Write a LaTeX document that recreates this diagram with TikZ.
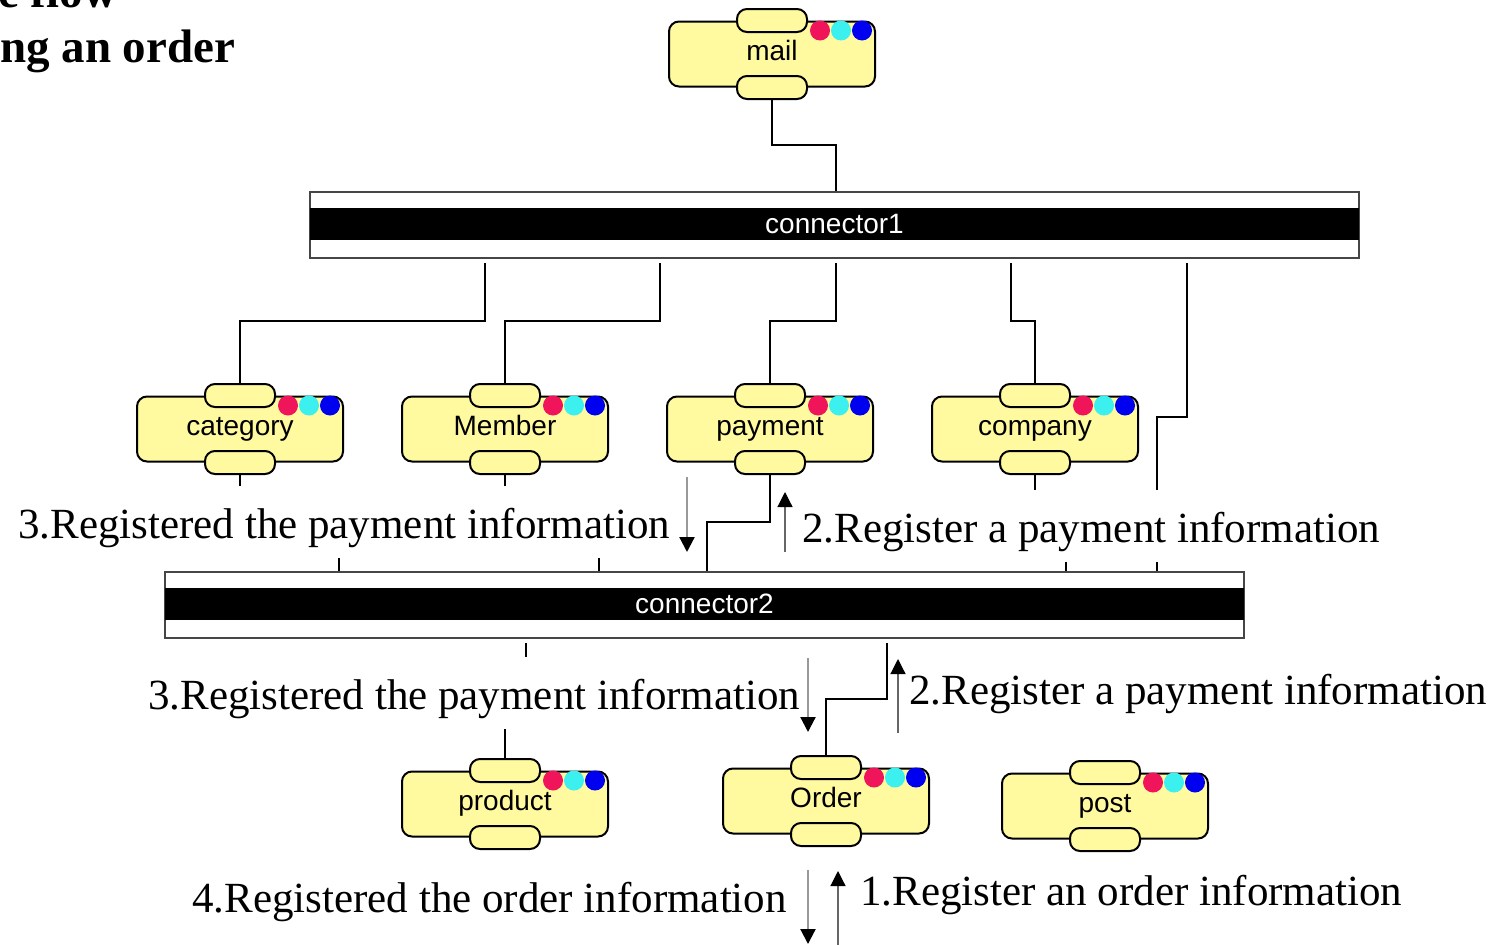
\documentclass[tikz,border=0pt]{standalone}
\usepackage{fontspec}
\setmainfont{Liberation Serif}
\newfontfamily\compfont{Liberation Sans}
\usetikzlibrary{arrows.meta}
\definecolor{compyellow}{RGB}{255,250,160}
\definecolor{dotred}{RGB}{240,20,90}
\definecolor{dotcyan}{RGB}{60,240,240}
\definecolor{dotblue}{RGB}{0,0,240}
\definecolor{conngray}{RGB}{70,70,70}
\tikzset{
  compbody/.style={draw=black, line width=2pt, fill=compyellow, rounded corners=10pt,
    minimum width=206pt, minimum height=65pt, inner sep=0pt,
    text height=20pt, text depth=8pt,
    font=\compfont\fontsize{28}{30}\selectfont},
  comptab/.style={draw=black, line width=2pt, fill=compyellow, rounded corners=10pt,
    minimum width=70pt, minimum height=23pt, inner sep=0pt},
  compdot/.style={circle, inner sep=0pt, minimum size=20pt},
  connbox/.style={draw=conngray, line width=2pt, fill=white,
    minimum height=66pt, inner sep=0pt},
  connband/.style={fill=black, minimum height=32pt, inner sep=0pt,
    text=white, font=\compfont\fontsize{28}{30}\selectfont},
  wire/.style={draw=black, line width=2.4pt},
  note/.style={fill=white, anchor=base west, inner xsep=3pt, inner ysep=0pt,
    text height=52pt, text depth=20pt, font=\fontsize{43}{46}\selectfont},
  msgdown/.style={draw=black!40, line width=2.2pt, -{Triangle[width=15pt,length=15pt,color=black]}},
  msgup/.style={draw=black!60, line width=1.2pt, -{Triangle[width=15pt,length=15pt,color=black]}},
  titletext/.style={anchor=base west, inner sep=0pt, font=\bfseries\fontsize{47}{50}\selectfont},
}
\newcommand\compo[4]{%
  \node[compbody] (#1) at (#2,#3) {#4};
  \node[comptab] (#1-t) at (#1.north) {};
  \node[comptab] (#1-b) at (#1.south) {};
  \node[compdot, fill=dotred] (#1-d1) at ([xshift=-56pt,yshift=-10pt]#1.north east) {};
  \node[compdot, fill=dotcyan] (#1-d2) at ([xshift=-35pt,yshift=-10pt]#1.north east) {};
  \node[compdot, fill=dotblue] (#1-d3) at ([xshift=-14pt,yshift=-10pt]#1.north east) {};
}
\begin{document}
\begin{tikzpicture}[x=1pt,y=-1pt]
\useasboundingbox (0,0) rectangle (1508,945);

% title (cut by the page edge as in the reference)
\node[titletext] (t1) at (-2,7) {e flow};
\node[titletext] (t2) at (0,62) {ng an order};

% components
\compo{mail}{772}{54}{mail}
\compo{category}{240}{429}{category}
\compo{Member}{505}{429}{Member}
\compo{payment}{770}{429}{payment}
\compo{company}{1035}{429}{company}
\compo{product}{505}{804}{product}
\compo{Order}{826}{801}{Order}
\compo{post}{1105}{806}{post}

% connectors
\node[connbox, minimum width=1049pt] (c1) at (834.5,225) {};
\node[connband, minimum width=1049pt] (c1band) at (834.5,224) {connector1};
\node[connbox, minimum width=1079pt] (c2) at (704.5,605) {};
\node[connband, minimum width=1079pt] (c2band) at (704.5,604) {connector2};

% ports
\coordinate (c1top) at ([xshift=1.5pt]c1.north);
\coordinate (c1p1) at ([xshift=-349.5pt,yshift=-4pt]c1.south);
\coordinate (c1p2) at ([xshift=-174.5pt,yshift=-4pt]c1.south);
\coordinate (c1p3) at ([xshift=1.5pt,yshift=-4pt]c1.south);
\coordinate (c1p4) at ([xshift=176.5pt,yshift=-4pt]c1.south);
\coordinate (c1p5) at ([xshift=352.5pt,yshift=-4pt]c1.south);
\coordinate (c2q1) at ([xshift=-365.5pt]c2.north);
\coordinate (c2q2) at ([xshift=-105.5pt]c2.north);
\coordinate (c2q3) at ([xshift=2.5pt]c2.north);
\coordinate (c2q4) at ([xshift=361.5pt]c2.north);
\coordinate (c2q5) at ([xshift=452.5pt]c2.north);
\coordinate (c2r1) at ([xshift=-178.5pt,yshift=-4pt]c2.south);
\coordinate (c2r2) at ([xshift=182.5pt,yshift=-4pt]c2.south);
\coordinate (y145) at (0,145);
\coordinate (y321) at (0,321);
\coordinate (y417) at (0,417);
\coordinate (y520) at (0,520);
\coordinate (y522) at (0,522);
\coordinate (y525) at (0,525);
\coordinate (y690) at (0,690);
\coordinate (y699) at (0,699);

% wires
\draw[wire] (mail-b.south) -- (mail-b.south |- y145) -| (c1top);
\draw[wire] (c1p1) -- (c1p1 |- y321) -| (category-t.north);
\draw[wire] (c1p2) -- (c1p2 |- y321) -| (Member-t.north);
\draw[wire] (c1p3) -- (c1p3 |- y321) -| (payment-t.north);
\draw[wire] (c1p4) -- (c1p4 |- y321) -| (company-t.north);
\draw[wire] (c1p5) -- (c1p5 |- y417) -| (c2q5);
\draw[wire] (category-b.south) -- (category-b.south |- y520) -| (c2q1);
\draw[wire] (Member-b.south) -- (Member-b.south |- y520) -| (c2q2);
\draw[wire] (payment-b.south) -- (payment-b.south |- y522) -| (c2q3);
\draw[wire] (company-b.south) -- (company-b.south |- y525) -| (c2q4);
\draw[wire] (c2r1) -- (c2r1 |- y690) -| (product-t.north);
\draw[wire] (c2r2) -- (c2r2 |- y699) -| (Order-t.north);

% message labels
\node[note] (n3a) at (15,538) {3.Registered the payment information};
\node[note] (n2a) at (799,542) {2.Register a payment information};
\node[note] (n3b) at (145,709) {3.Registered the payment information};
\node[note] (n2b) at (906,704) {2.Register a payment information};
\node[note] (n4) at (189,912) {4.Registered the order information};
\node[note] (n1) at (857,905) {1.Register an order information};

% message arrows
\coordinate (a1s) at (687,477); \coordinate (a1e) at (687,552);
\coordinate (a2s) at (785,552); \coordinate (a2e) at (785,492);
\coordinate (a3s) at (808,658); \coordinate (a3e) at (808,732);
\coordinate (a4s) at (898,733); \coordinate (a4e) at (898,659);
\coordinate (a5s) at (808,870); \coordinate (a5e) at (808,944);
\coordinate (a6s) at (838,945); \coordinate (a6e) at (838,871);
\draw[msgdown] (a1s) -- (a1e);
\draw[msgup] (a2s) -- (a2e);
\draw[msgdown] (a3s) -- (a3e);
\draw[msgup] (a4s) -- (a4e);
\draw[msgdown] (a5s) -- (a5e);
\draw[msgup] (a6s) -- (a6e);
\end{tikzpicture}
\end{document}
